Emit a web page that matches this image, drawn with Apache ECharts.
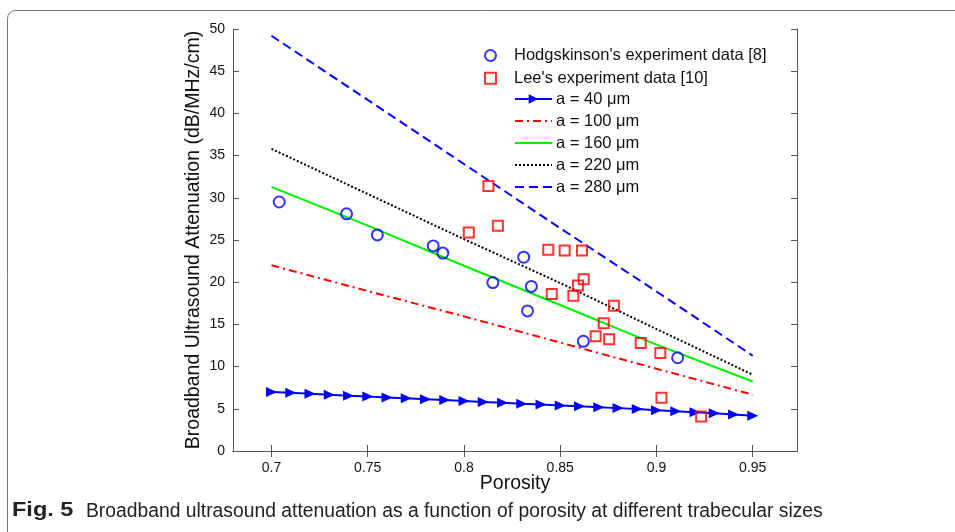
<!DOCTYPE html>
<html>
<head>
<meta charset="utf-8">
<script src="https://cdn.jsdelivr.net/npm/echarts@6/dist/echarts.min.js"></script>
<style>
  html, body { margin: 0; padding: 0; background: #fff; }
  #chart-container { width: 955px; height: 532px; }
</style>
</head>
<body>
<div id="chart-container"></div>
<script>
var dom = document.getElementById('chart-container');
var myChart = echarts.init(dom, null, { renderer: 'canvas' });

// tick labels
const xTicks = [0.7, 0.75, 0.8, 0.85, 0.9, 0.95];

// Hodgskinson's experiment data [8]
const hodgPorosity = [0.704, 0.739, 0.755, 0.784, 0.789, 0.815, 0.831, 0.835, 0.833, 0.862, 0.911];
const hodgBUA = [29.5, 28.1, 25.6, 24.3, 23.45, 19.96, 22.96, 19.5, 16.6, 13.0, 11.05];

// Lee's experiment data [10]
const leePorosity = [0.8025, 0.8127, 0.8176, 0.8438, 0.8523, 0.8613, 0.8622, 0.8592, 0.8456, 0.8568,
  0.8779, 0.8726, 0.8684, 0.8754, 0.8918, 0.902, 0.9026, 0.9232];
const leeBUA = [25.9, 31.4, 26.7, 23.85, 23.75, 23.75, 20.35, 19.6, 18.6, 18.4,
  17.2, 15.15, 13.6, 13.25, 12.8, 11.6, 6.3, 4.1];

// model curves
const porosityFine = [0.70, 0.71, 0.72, 0.73, 0.74, 0.75, 0.76, 0.77, 0.78, 0.79, 0.80, 0.81, 0.82,
  0.83, 0.84, 0.85, 0.86, 0.87, 0.88, 0.89, 0.90, 0.91, 0.92, 0.93, 0.94, 0.95];
const bua40 = [7.0, 6.89, 6.78, 6.67, 6.56, 6.45, 6.35, 6.24, 6.14, 6.03, 5.93, 5.82, 5.72,
  5.61, 5.51, 5.4, 5.3, 5.19, 5.08, 4.97, 4.84, 4.72, 4.6, 4.48, 4.33, 4.18];
const porosityCoarse = [0.70, 0.75, 0.80, 0.85, 0.90, 0.95];
const bua100 = [22.0, 18.95, 15.95, 12.85, 9.75, 6.67];
const bua160 = [31.3, 26.7, 21.95, 17.3, 12.6, 8.24];
const bua220 = [35.8, 30.45, 25.1, 19.9, 14.45, 9.04];
const bua280 = [49.2, 41.6, 34.0, 26.4, 18.9, 11.29];

function pairs(xs, ys) {
  return xs.map(function (x, i) { return [x, ys[i]]; });
}

var font = 'Liberation Sans, Arial, sans-serif';
var axisColor = '#555';
var noMarker = { opacity: 0 };

var option = {
  animation: false,
  backgroundColor: '#fff',
  grid: { left: 233, top: 29, right: 158, bottom: 81, show: false },
  legend: [
    {
      orient: 'vertical',
      left: 484, top: 47, padding: 0,
      itemWidth: 11, itemHeight: 11, itemGap: 5.8,
      textStyle: { fontFamily: font, fontSize: 16.5, color: '#111', lineHeight: 16, padding: [0, 0, 0, 13] },
      data: ["Hodgskinson's experiment data [8]", "Lee's experiment data [10]"]
    },
    {
      orient: 'vertical',
      left: 514, top: 90.5, padding: 0,
      itemWidth: 37, itemHeight: 12, itemGap: 5,
      textStyle: { fontFamily: font, fontSize: 16.5, color: '#111', lineHeight: 16, padding: [0, 0, 0, -1] },
      data: [
        { name: 'a = 40 μm' },
        { name: 'a = 100 μm', itemStyle: noMarker },
        { name: 'a = 160 μm', itemStyle: noMarker },
        { name: 'a = 220 μm', itemStyle: noMarker },
        { name: 'a = 280 μm', itemStyle: noMarker }
      ]
    }
  ],
  xAxis: [
    {
      type: 'value', min: 0.68, max: 0.973,
      name: 'Porosity', nameLocation: 'middle', nameGap: 23, nameMoveOverlap: false,
      nameTextStyle: { fontFamily: font, fontSize: 19.5, color: '#111' },
      axisLine: { show: true, lineStyle: { color: axisColor, width: 1 } },
      axisTick: { show: true, inside: true, length: 6, customValues: xTicks, lineStyle: { color: axisColor } },
      axisLabel: { customValues: xTicks, fontFamily: font, fontSize: 14, color: '#111', margin: 10,
        formatter: function (v) { return String(+v.toFixed(2)); } },
      splitLine: { show: false }
    },
    {
      type: 'value', min: 0.68, max: 0.973, position: 'top',
      axisLine: { show: true, lineStyle: { color: axisColor, width: 1 } },
      axisTick: { show: true, inside: true, length: 6, customValues: xTicks, lineStyle: { color: axisColor } },
      axisLabel: { show: false },
      splitLine: { show: false }
    }
  ],
  yAxis: [
    {
      type: 'value', min: 0, max: 50, interval: 5,
      name: 'Broadband Ultrasound Attenuation (dB/MHz/cm)', nameLocation: 'middle', nameGap: 29, nameMoveOverlap: false,
      nameTextStyle: { fontFamily: font, fontSize: 19.5, color: '#111' },
      axisLine: { show: true, lineStyle: { color: axisColor, width: 1 } },
      axisTick: { show: true, inside: true, length: 6, lineStyle: { color: axisColor } },
      axisLabel: { fontFamily: font, fontSize: 14, color: '#111', margin: 8 },
      splitLine: { show: false }
    },
    {
      type: 'value', min: 0, max: 50, interval: 5, position: 'right',
      axisLine: { show: true, lineStyle: { color: axisColor, width: 1 } },
      axisTick: { show: true, inside: true, length: 6, lineStyle: { color: axisColor } },
      axisLabel: { show: false },
      splitLine: { show: false }
    }
  ],
  series: [
    {
      name: 'a = 40 μm', type: 'line', data: pairs(porosityFine, bua40),
      symbol: 'triangle', symbolSize: [10, 11], symbolRotate: -90, showSymbol: true,
      lineStyle: { color: '#0000ff', width: 2 }, itemStyle: { color: '#0000ff' }, z: 3
    },
    {
      name: 'a = 100 μm', type: 'line', data: pairs(porosityCoarse, bua100), symbol: 'none',
      lineStyle: { color: '#ff0000', width: 2, type: [8, 4, 2, 4] }, itemStyle: { color: '#ff0000' }, z: 3
    },
    {
      name: 'a = 160 μm', type: 'line', data: pairs(porosityCoarse, bua160), symbol: 'none',
      lineStyle: { color: '#00ee00', width: 2 }, itemStyle: { color: '#00ee00' }, z: 3
    },
    {
      name: 'a = 220 μm', type: 'line', data: pairs(porosityCoarse, bua220), symbol: 'none',
      lineStyle: { color: '#000', width: 2, type: [2, 2] }, itemStyle: { color: '#000' }, z: 3
    },
    {
      name: 'a = 280 μm', type: 'line', data: pairs(porosityCoarse, bua280), symbol: 'none',
      lineStyle: { color: '#0000ff', width: 2, type: [9, 5] }, itemStyle: { color: '#0000ff' }, z: 3
    },
    {
      name: "Hodgskinson's experiment data [8]", type: 'scatter', data: pairs(hodgPorosity, hodgBUA),
      symbol: 'circle', symbolSize: 11,
      itemStyle: { color: 'rgba(0,0,0,0)', borderColor: '#0000ff', borderWidth: 2 }, z: 4
    },
    {
      name: "Lee's experiment data [10]", type: 'scatter', data: pairs(leePorosity, leeBUA),
      symbol: 'rect', symbolSize: 10,
      itemStyle: { color: 'rgba(0,0,0,0)', borderColor: '#ff0000', borderWidth: 2 }, z: 4
    }
  ],
  graphic: [
    {
      type: 'rect', left: 5, top: 8, z: -1,
      shape: { width: 980, height: 540, r: 8 },
      style: { fill: 'none', stroke: '#777', lineWidth: 1 }
    },
    {
      type: 'text', left: 12, top: 500, scaleX: 1.12,
      style: { text: 'Fig. 5', font: 'bold 21px "Liberation Sans", sans-serif', fill: '#222' }
    },
    {
      type: 'text', left: 86, top: 501, scaleX: 0.965,
      style: { text: 'Broadband ultrasound attenuation as a function of porosity at different trabecular sizes',
        font: '20px "Liberation Sans", sans-serif', fill: '#222' }
    }
  ]
};

myChart.setOption(option);
window.addEventListener('resize', myChart.resize);
</script>
</body>
</html>
